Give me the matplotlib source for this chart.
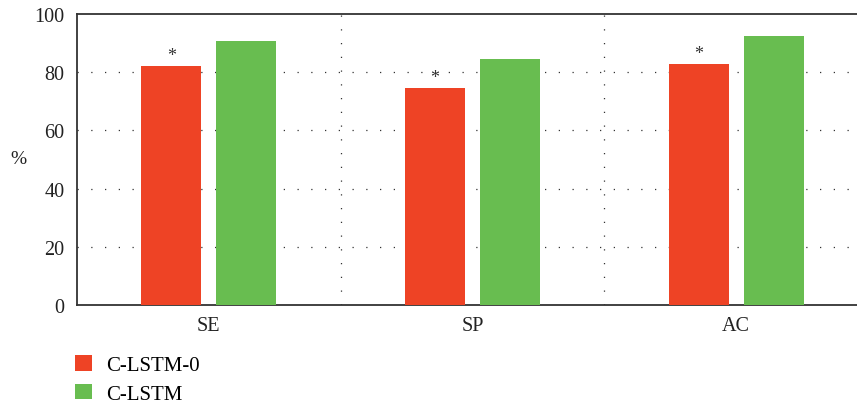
import matplotlib
matplotlib.use('Agg')
import matplotlib.pyplot as plt
import numpy as np

plt.rcParams['font.family'] = ['Liberation Serif', 'DejaVu Serif']

# метрики и значения
categories = ['SE', 'SP', 'AC']
c_lstm_0 = [82.3, 74.7, 82.9]
c_lstm = [90.8, 84.6, 92.5]
marked = [True, True, True]

red = '#EE4325'
green = '#68BD50'

fig = plt.figure(figsize=(8.57, 4.06), dpi=100)
ax = fig.add_axes([77 / 857, 1 - 306 / 406, 791 / 857, 291 / 406])

x = np.arange(len(categories))
w = 0.227
off = 0.142

ax.bar(x - off, c_lstm_0, w, color=red, label='C-LSTM-0', zorder=3)
ax.bar(x + off, c_lstm, w, color=green, label='C-LSTM', zorder=3)

# звёздочки над красными столбиками
for xi, v, m in zip(x, c_lstm_0, marked):
    if m:
        ax.text(xi - off, v + 3.6, '*', ha='center', va='center', fontsize=13, color='#333333', zorder=4)

ax.set_xlim(-0.5, 2.5)
ax.set_ylim(0, 100)
ax.set_yticks([0, 20, 40, 60, 80, 100])
ax.set_xticks(x)
ax.set_xticklabels(categories)
ax.tick_params(length=0, labelsize=14.5, colors='#222222', pad=9)
ax.tick_params(axis='x', pad=8)

# пунктирная сетка
for yv in [20, 40, 60, 80]:
    ax.axhline(yv, color='#333333', lw=0.9, ls=(0, (1, 10)), zorder=1)
for xv in [0.5, 1.5]:
    ax.axvline(xv, color='#333333', lw=0.9, ls=(0, (1, 10)), zorder=1)

ax.spines['right'].set_visible(False)
for s in ['left', 'top', 'bottom']:
    ax.spines[s].set_color('#333333')
    ax.spines[s].set_linewidth(1.3)

fig.text(18 / 857, 1 - 160 / 406, '%', ha='center', va='center', fontsize=14, color='#222222')

fig.legend(loc='upper left', bbox_to_anchor=(75 / 857, 1 - 356 / 406), frameon=False,
           fontsize=15, handlelength=0.8, handleheight=0.8, handletextpad=0.7,
           labelspacing=0.4, borderpad=0, borderaxespad=0)

fig.savefig('out.png', dpi=100)
